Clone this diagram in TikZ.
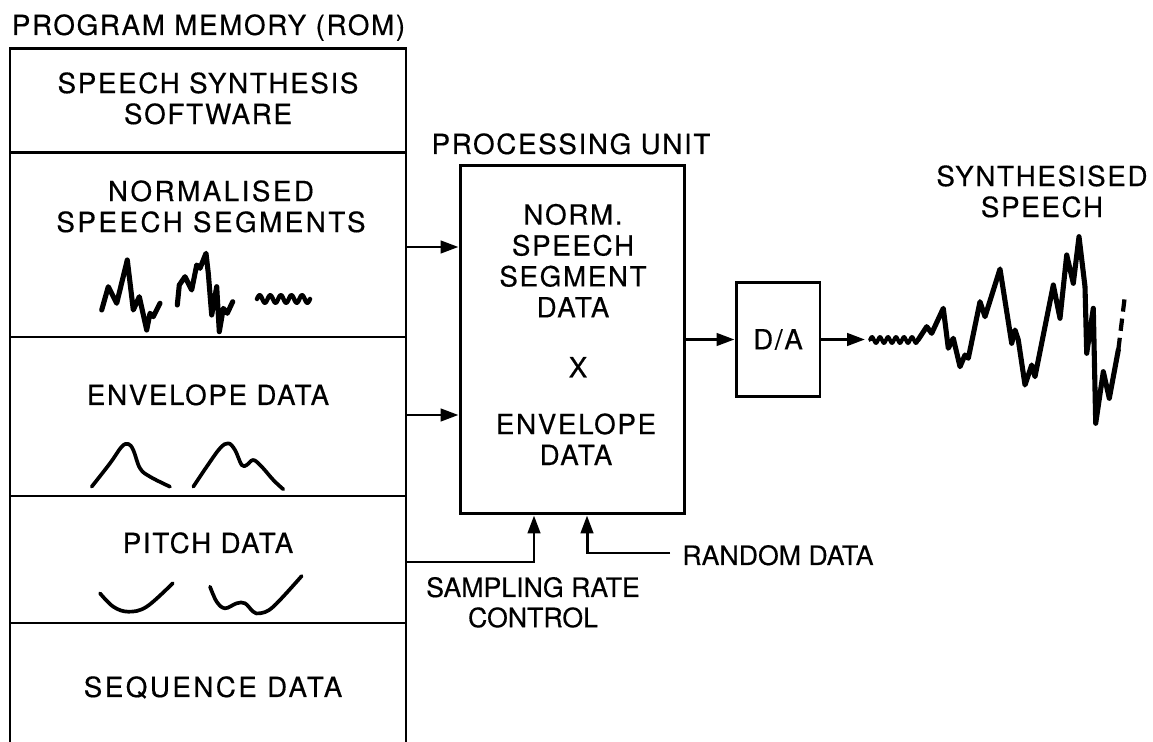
\documentclass[tikz,border=0pt]{standalone}
\usepackage{fontspec}
\setmainfont{TeX Gyre Heros}
\newfontfamily\lblfont[LetterSpace=6,FakeBold=0.4]{TeX Gyre Heros}
\newfontfamily\widefont[LetterSpace=9,FakeBold=0.4]{TeX Gyre Heros}
\newfontfamily\tightfont[FakeBold=0.4]{TeX Gyre Heros}
\usetikzlibrary{arrows.meta}

\begin{document}
\begin{tikzpicture}[x=0.02cm,y=-0.02cm,
  box/.style={draw,line width=1.7pt},
  lbl/.style={font=\lblfont\fontsize{15.8}{17.6}\selectfont, inner sep=0pt, align=center},
  widelbl/.style={lbl,font=\widefont\fontsize{15.8}{17.6}\selectfont},
  tightlbl/.style={lbl,font=\tightfont\fontsize{15.2}{17.2}\selectfont},
  arr/.style={line width=1.7pt,-{Triangle[length=0.36cm,width=0.25cm]}},
  wave/.style={line width=2.9pt,line join=round,line cap=round},
  soft/.style={line width=2.1pt,line join=round,line cap=round},
]
\useasboundingbox (0,0) rectangle (1153,742);

% ---- program memory (ROM) column ----
\node[lbl,anchor=base] (romtitle) at (208.5,35) {PROGRAM MEMORY (ROM)};
\draw[box] (10,760) -- (10,49) -- (406,49) -- (406,760);
\draw[box] (10,153) -- (406,153);
\draw[box] (10,337) -- (406,337);
\draw[box] (10,496) -- (406,496);
\draw[box] (10,623) -- (406,623);

\node[lbl,anchor=north] (sw)   at (208,72)  {SPEECH SYNTHESIS\\SOFTWARE};
\node[widelbl,anchor=north] (nseg) at (211,180) {NORMALISED\\SPEECH SEGMENTS};
\node[lbl,anchor=base]  (env)  at (208,405) {ENVELOPE DATA};
\node[lbl,anchor=base]  (pit)  at (208,553) {PITCH DATA};
\node[widelbl,anchor=base]  (seq)  at (213,697) {SEQUENCE DATA};

% speech segment sketches
\draw[wave] (101.7,310) -- (108.3,286.7) -- (116.7,303.3) -- (127.3,260) -- (133.3,310)
  -- (139.3,296.7) -- (146.7,330) -- (150,313.3) -- (153.3,316.7) -- (160,303.3);
\draw[wave] (177.3,305) -- (179.3,285) -- (185,276.7) -- (191.7,290) -- (196.7,265)
  -- (200,268.3) -- (206,253.3) -- (208.3,273.3) -- (211.7,315) -- (216.7,286.7)
  -- (219.3,331.7) -- (223.3,308.3) -- (227.3,313.3) -- (232.7,301.7);
\draw[wave,line width=2.5pt] plot[domain=0:1800,samples=80] ({257+\x/1800*53},{299-3.8*sin(\x)});

% envelope sketches
\draw[soft] plot[smooth,tension=0.6] coordinates {(91.7,486.7) (110,463.3) (121.7,446.7)
  (128.3,444) (133.3,450) (140,468.3) (150,476.7) (170,486.7)};
\draw[soft] plot[smooth,tension=0.6] coordinates {(193.3,486.7) (206.7,466.7) (220,448.3)
  (228.3,443.3) (235,450) (241.7,465) (246.7,465) (253.3,460) (261.7,466.7) (273.3,480) (283.3,489.3)};

% pitch sketches
\draw[soft] plot[smooth,tension=0.6] coordinates {(100,593.3) (113.3,606.7) (128.3,611.7)
  (146.7,606.7) (172.7,583.3)};
\draw[soft] plot[smooth,tension=0.6] coordinates {(210,586.7) (216.7,601.7) (225,608.3)
  (236.7,603.3) (245,603.3) (253.3,611.7) (260,613.3) (273.3,606.7) (301.7,576)};

% ---- processing unit ----
\node[lbl,anchor=base] (putitle) at (571,154) {PROCESSING UNIT};
\node[box,minimum width=4.5cm,minimum height=6.98cm] (pu) at (572.5,339.5) {};
\node[lbl,anchor=north] (pu1) at (573,203.5) {NORM.\\SPEECH\\SEGMENT\\DATA};
\node[lbl,anchor=north] (pux) at (578,356.7) {X};
\node[lbl,anchor=north] (pu2) at (576,413) {ENVELOPE\\DATA};

\coordinate (segout) at (406,247);
\coordinate (envout) at (406,415);
\coordinate (pitout) at (406,562);
\draw[arr] (segout) -- (segout -| pu.west);
\draw[arr] (envout) -- (envout -| pu.west);
\draw[arr] (pitout) -| (534,0 |- pu.south);

\node[tightlbl,anchor=north] (src) at (533,576.7) {SAMPLING RATE\\CONTROL};
\node[tightlbl,anchor=base west,inner xsep=0.24cm] (rnd) at (670,565) {RANDOM DATA};
\coordinate (rndin) at (670,553);
\draw[arr] (rndin) -| (587,0 |- pu.south);

% ---- converter and output ----
\node[box,minimum width=1.68cm,minimum height=2.28cm,font=\lblfont\fontsize{15.8}{17.6}\selectfont] (da) at (778,339.5) {D/A};
\draw[arr] (pu.east |- da.west) -- (da.west);
\coordinate (wstart) at (865,339.5);
\draw[arr] (da.east) -- (wstart);

\node[lbl,anchor=north] (synth) at (1042,165) {SYNTHESISED\\SPEECH};

\draw[wave,line width=2.2pt] plot[domain=0:2160,samples=100] ({870+\x/2160*48},{340-3*sin(\x)});
\draw[wave] (918,340) -- (926.7,326.7) -- (931.7,333.3) -- (943.3,308.3) -- (948.3,348.3) -- (953.3,338.3)
  -- (960,366.7) -- (965,355) -- (968.3,358.3) -- (980,301.7) -- (985,316.7) -- (1000,269)
  -- (1011.7,343.3) -- (1015,330) -- (1018.3,340) -- (1025,385) -- (1031.7,365) -- (1035,376.7)
  -- (1053.3,285) -- (1060,318.3) -- (1066.7,255) -- (1073.3,283.3) -- (1079,236.7)
  -- (1085,286.7) -- (1086.7,353.3) -- (1093.3,308.3) -- (1095.7,423.3) -- (1103.3,371.7)
  -- (1109.3,398.3) -- (1118.3,350);
\draw[line width=2.4pt,dash pattern=on 7pt off 4pt] (1118.3,350) -- (1125,295);
\end{tikzpicture}
\end{document}
